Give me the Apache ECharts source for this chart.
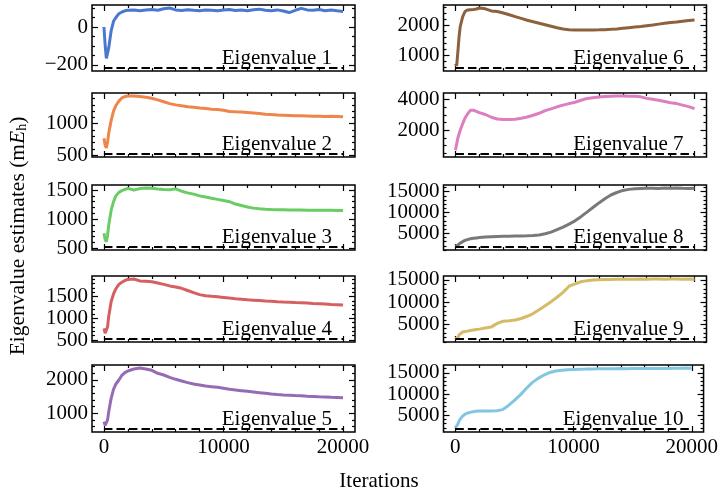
<!DOCTYPE html>
<html><head><meta charset="utf-8">
<script src="https://cdn.jsdelivr.net/npm/echarts@6/dist/echarts.min.js"></script>
<style>html,body{margin:0;padding:0;background:#fff}#c{width:721px;height:497px}</style>
</head><body><div id="c"></div>
<script>
const ITER = [0,100,200,300,400,600,800,1000,1250,1500,1750,2000,2500,3000,3500,4000,4500,5000,5500,6000,6500,7000,7500,8000,8500,9000,9500,10000,10500,11000,11500,12000,12500,13000,13500,14000,14500,15000,15500,16000,16500,17000,17500,18000,18500,19000,19500,20000];
const EIG1 = [0,-95,-165,-160,-110,-20,30,50,70,79,85,88, 90,86,89,92,88,96,100,90,87,91, 88,86,90,88,85,89,92,87,90,86, 91,94,88,86,90,84,76,88,98,90, 88,92,86,90,85,82];
const EIG2 = [770,660,615,700,850,1050,1200,1290,1360,1410,1432,1440, 1443,1432,1420,1405,1380,1350,1320,1300,1285,1272, 1262,1250,1242,1232,1225,1215,1196,1190,1186,1180, 1172,1162,1152,1145,1140,1136,1132,1126,1125,1124, 1120,1118,1116,1118,1114,1110];
const EIG3 = [760,650,615,720,900,1150,1300,1400,1460,1490,1510,1528, 1500,1525,1536,1530,1518,1510,1505,1520,1480,1452, 1430,1400,1380,1360,1340,1320,1300,1260,1235,1210, 1190,1178,1170,1165,1162,1160,1158,1157,1156,1155, 1152,1155,1154,1152,1150,1148];
const EIG4 = [770,660,616,800,1050,1380,1560,1680,1780,1830,1870,1895, 1904,1860,1850,1840,1810,1780,1745,1720,1690,1640, 1590,1545,1520,1505,1495,1480,1465,1452,1440,1428, 1418,1408,1398,1390,1382,1375,1370,1362,1356,1350, 1342,1335,1328,1320,1314,1306];
const EIG5 = [750,640,610,800,1050,1450,1720,1880,2000,2140,2220,2270, 2330,2358,2330,2290,2200,2150,2080,2020,1970,1920, 1880,1850,1820,1800,1780,1750,1720,1700,1680,1660, 1640,1620,1600,1580,1565,1552,1545,1535,1528,1515, 1505,1495,1490,1482,1478,1470];
const EIG6 = [720,640,1100,1600,1950,2270,2450,2500,2510,2520,2535,2567, 2540,2470,2450,2400,2340,2280,2220,2160,2110,2060, 2010,1960,1910,1870,1845,1835,1830,1830,1832,1838, 1845,1855,1870,1890,1910,1930,1950,1975,2000,2030, 2060,2085,2100,2125,2150,2170];
const EIG7 = [700,1100,1500,1750,2000,2420,2800,3050,3300,3310,3230,3150, 3030,2850,2740,2700,2700,2720,2780,2870,2980,3110, 3280,3400,3530,3640,3740,3830,3960,4070,4120,4170, 4200,4215,4230,4241,4225,4220,4180,4080,4020,3960, 3880,3800,3740,3640,3540,3410];
const EIG8 = [1900,2000,2200,2400,2650,3000,3300,3500,3700,3820,3900,3980, 4100,4180,4240,4280,4320,4350,4380,4420,4480,4600, 4900,5300,5900,6500,7200,8000,9000,10100,11200,12300, 13300,14200,14800,15300,15550,15700,15750,15800,15820,15780, 15850,15800,15890,15820,15760,15800];
const EIG9 = [1750,1800,2000,2600,3000,3250,3350,3450,3600,3700,3800,3900, 4150,4400,5200,5700,5800,5950,6300,6800,7420,8300, 9200,10100,11100,12200,13600,14100,14600,14850,15000,15050, 15100,15130,15150,15160,15180,15170,15200,15190,15220,15200, 15180,15200,15210,15190,15200,15180];
const EIG10 = [2000,2300,2800,3500,4000,4700,5200,5450,5650,5800,5900,5950, 5980,6000,6050,6300,7300,8500,9800,11300,12700,13700, 14500,15100,15450,15650,15750,15820,15880,15900,15950,15960, 15980,16000,16000,16020,16010,16030,16040,16050,16060,16050, 16070,16060,16080,16100,16150,16120];
const EXACT = [-216, 516, 522, 524, 531, 567, 449, 1709, 1667, 1727];
const NAMES = ['Eigenvalue 1','Eigenvalue 2','Eigenvalue 3','Eigenvalue 4','Eigenvalue 5','Eigenvalue 6','Eigenvalue 7','Eigenvalue 8','Eigenvalue 9','Eigenvalue 10'];
const X_MAJOR = [0, 10000, 20000];
const X_MINOR = [2000, 4000, 6000, 8000, 12000, 14000, 16000, 18000];
const Y_MAJOR = [[-200,0],[500,1000],[500,1000,1500],[500,1000,1500],[1000,2000],[1000,2000],[2000,4000],[5000,10000,15000],[5000,10000,15000],[5000,10000,15000]];
const Y_MINOR_STEP = [50,100,100,100,200,200,500,1000,1000,1000];
const X_TITLE = 'Iterations';

const SERIES = [EIG1,EIG2,EIG3,EIG4,EIG5,EIG6,EIG7,EIG8,EIG9,EIG10];
const COLORS = ['#4878d0','#ee854a','#6acc64','#d65f5f','#956cb4','#8c613c','#dc7ec0','#797979','#d5bb67','#82c6e2'];
const FONT = "'Liberation Serif','Times New Roman',serif";
const FS = 21;
const ROW_TOP = [5, 93, 185, 276, 365];
const ROW_H = [66, 64, 65, 66, 67];
const COL_LEFT = [92, 443.5];
const COL_W = 263;
const XMIN = -1000, XMAX = 21000;

const grids = [], xAxes = [], yAxes = [], series = [], graphics = [];
const fmt = v => String(v).replace('-', '\u2212');
function tickAxis(kind, gi, pos, min, max, vals, len, labels) {
  return {
    gridIndex: gi, type: 'value', position: pos, min: min, max: max, offset: 0,
    axisLine: {show: false, onZero: false}, splitLine: {show: false},
    axisTick: {show: true, inside: true, length: len, lineStyle: {color: '#000', width: 1.2}, customValues: vals},
    axisLabel: labels ? {show: true, customValues: vals, fontSize: FS, fontFamily: FONT, color: '#000', margin: kind === 'x' ? 5 : 4, formatter: fmt} : {show: false}
  };
}
for (let i = 0; i < 10; i++) {
  const col = i < 5 ? 0 : 1, row = i % 5;
  const data = SERIES[i];
  let lo = Math.min(EXACT[i], Math.min(...data)), hi = Math.max(...data);
  const pad = 0.05 * (hi - lo);
  const ymin = lo - pad, ymax = hi + pad;
  const left = COL_LEFT[col], top = ROW_TOP[row], h = ROW_H[row];
  grids.push({left: left, top: top, width: COL_W, height: h, show: true, borderColor: '#000', borderWidth: 1.5, backgroundColor: 'transparent'});
  const yMinor = [];
  const st = Y_MINOR_STEP[i];
  for (let v = Math.ceil(ymin / st) * st; v <= ymax; v += st) if (!Y_MAJOR[i].includes(v)) yMinor.push(v);
  const xb = xAxes.length, yb = yAxes.length;
  xAxes.push(tickAxis('x', i, 'bottom', XMIN, XMAX, X_MAJOR, 6, row === 4));
  xAxes.push(tickAxis('x', i, 'bottom', XMIN, XMAX, X_MINOR, 3, false));
  xAxes.push(tickAxis('x', i, 'top', XMIN, XMAX, X_MAJOR, 6, false));
  xAxes.push(tickAxis('x', i, 'top', XMIN, XMAX, X_MINOR, 3, false));
  yAxes.push(tickAxis('y', i, 'left', ymin, ymax, Y_MAJOR[i], 6, true));
  yAxes.push(tickAxis('y', i, 'left', ymin, ymax, yMinor, 3, false));
  yAxes.push(tickAxis('y', i, 'right', ymin, ymax, Y_MAJOR[i], 6, false));
  yAxes.push(tickAxis('y', i, 'right', ymin, ymax, yMinor, 3, false));
  series.push({type: 'line', xAxisIndex: xb, yAxisIndex: yb, showSymbol: false, silent: true,
    data: ITER.map((x, k) => [x, data[k]]), lineStyle: {color: COLORS[i], width: 3}, z: 2});
  series.push({type: 'line', xAxisIndex: xb, yAxisIndex: yb, showSymbol: false, silent: true,
    data: [[ITER[0], EXACT[i]], [ITER[ITER.length - 1], EXACT[i]]], lineStyle: {color: '#000', width: 2, type: [8.5, 4]}, z: 3});
  graphics.push({type: 'text', x: left + COL_W - 23, y: top + h - 13, z: 10,
    style: {text: NAMES[i], fill: '#000', font: FS + 'px ' + FONT, textAlign: 'right', align: 'right', textVerticalAlign: 'middle', verticalAlign: 'middle'}});
}
graphics.push({type: 'text', x: 379, y: 481, z: 10,
  style: {text: X_TITLE, fill: '#000', font: FS + 'px ' + FONT, textAlign: 'center', align: 'center', textVerticalAlign: 'middle', verticalAlign: 'middle'}});
graphics.push({type: 'text', x: 17, y: 236, rotation: Math.PI / 2, z: 10,
  style: {text: '{a|Eigenvalue estimates (m}{e|E}{h|h}{a|)}', fill: '#000', align: 'center', textAlign: 'center', verticalAlign: 'middle', textVerticalAlign: 'middle',
    rich: {
      a: {fontSize: 21.5, fontFamily: FONT, lineHeight: 24, verticalAlign: 'bottom', fill: '#000', color: '#000'},
      e: {fontSize: 21.5, fontFamily: FONT, fontStyle: 'italic', lineHeight: 24, verticalAlign: 'bottom', fill: '#000', color: '#000'},
      h: {fontSize: 14, fontFamily: FONT, lineHeight: 14, padding: [9, 0, 0, 0], verticalAlign: 'bottom', fill: '#000', color: '#000'}
    }}});
const chart = echarts.init(document.getElementById('c'), null, {renderer: 'canvas'});
chart.setOption({animation: false, backgroundColor: '#fff', grid: grids, xAxis: xAxes, yAxis: yAxes, series: series, graphic: graphics});
</script></body></html>
